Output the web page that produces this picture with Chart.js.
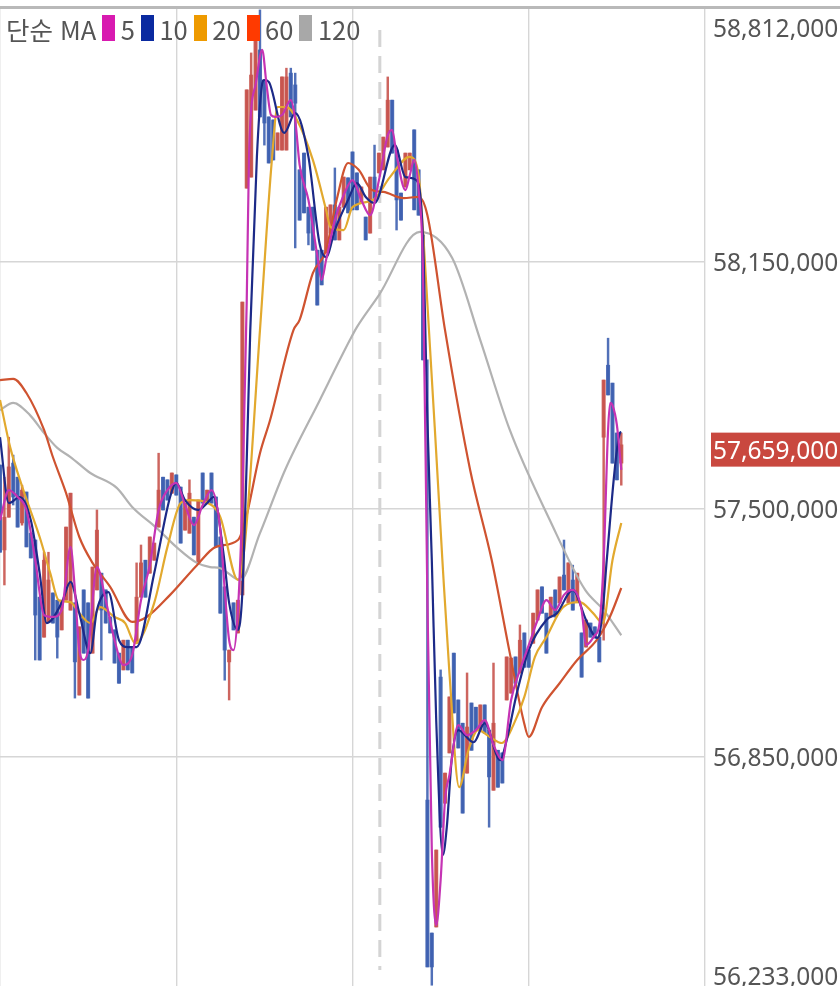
<!DOCTYPE html>
<html lang="ko">
<head>
<meta charset="UTF-8">
<title>단순 MA</title>
<script src="https://cdn.jsdelivr.net/npm/chart.js"></script>
<style>
  html, body { margin: 0; padding: 0; background: #fff; overflow: hidden; }
  #wrap { position: relative; width: 840px; height: 986px; }
  #legend { position: absolute; left: 6px; top: 13px; height: 30px; display: flex; align-items: center;
    font: 25.5px "Noto Sans CJK KR", "Noto Sans", sans-serif; color: #555; white-space: nowrap; }
  #legend i { display: inline-block; width: 13px; height: 26px; margin: 0 5.5px 0 6px; }
</style>
</head>
<body>
<div id="wrap">
  <canvas id="chart" width="840" height="986"></canvas>
  <div id="legend"></div>
</div>
<script>
// prices in thousand won
const opens = [57616,57393,57479,57621,57584,57464,57545,57437,57419,57269,57164,57204,57280,57261,57183,57261,57235,57254,57012,57288,57254,57122,57288,57332,57288,57217,57183,57122,57078,57156,57138,57148,57269,57366,57332,57366,57453,57584,57577,57542,57590,57558,57445,57437,57479,57359,57595,57516,57595,57532,57427,57296,57099,57254,57175,57275,58343,58372,58548,58706,58627,58530,58522,58443,58443,58443,58645,58614,58391,58435,58293,58293,58180,58180,58173,58225,58299,58207,58293,58370,58438,58383,58304,58267,58225,58372,58383,58391,58451,58574,58443,58330,58346,58391,58496,58391,58220,56736,56387,56403,57059,56728,56860,57122,56999,56938,56807,56991,56980,56920,56986,56920,56762,56867,56860,56999,57017,57112,57070,57175,57130,57148,57209,57296,57227,57217,57288,57254,57327,57254,57314,57256,57175,57138,57201,57191,57164,57689,57878,57831,57700,57621];
const closes = [57387,57479,57611,57532,57453,57550,57401,57372,57222,57104,57366,57314,57201,57164,57261,57453,57542,57099,57191,57122,57004,57348,57445,57235,57201,57175,57096,57043,57156,57078,57070,57269,57359,57269,57427,57411,57550,57498,57524,57595,57537,57411,57516,57542,57380,57524,57516,57550,57516,57401,57227,57130,57130,57183,57261,58044,58601,58640,58750,58530,58514,58409,58417,58488,58635,58635,58530,58566,58259,58278,58225,58180,58036,58089,58293,58299,58207,58293,58372,58278,58286,58286,58346,58207,58372,58312,58435,58477,58574,58435,58312,58259,58435,58435,58286,58272,57892,56298,56298,56605,56665,56807,57007,56965,56873,56702,56928,56867,56920,56986,56912,56797,56938,56770,56781,57112,57109,57043,57156,57085,57085,57227,57288,57227,57122,57269,57217,57322,57288,57359,57235,57332,57059,57209,57164,57162,57099,57839,57800,57621,57577,57669];
const highs = [57616,57584,57689,57642,57584,57563,57545,57437,57419,57269,57387,57387,57280,57261,57261,57453,57542,57254,57191,57288,57254,57348,57498,57332,57288,57217,57183,57122,57156,57156,57138,57359,57406,57366,57427,57411,57647,57584,57577,57595,57590,57558,57516,57577,57479,57524,57595,57550,57595,57532,57427,57296,57130,57254,57261,58044,58601,58698,58750,58811,58627,58530,58522,58488,58635,58658,58658,58645,58391,58435,58293,58293,58180,58180,58293,58299,58396,58293,58372,58370,58438,58383,58346,58267,58372,58456,58435,58477,58635,58574,58443,58330,58435,58435,58496,58391,58220,57892,56387,56605,57078,56807,57007,57122,56999,56938,57070,56991,56980,56986,56986,56920,57096,56867,56860,57112,57109,57112,57196,57175,57130,57227,57288,57296,57227,57269,57288,57322,57419,57359,57353,57332,57175,57209,57201,57191,57164,57839,57949,57831,57700,57700];
const lows = [57387,57301,57479,57511,57453,57458,57401,57372,57104,57104,57164,57204,57201,57109,57183,57261,57235,57004,57012,57122,57004,57122,57288,57104,57201,57175,57096,57043,57078,57078,57070,57148,57269,57269,57332,57366,57453,57498,57524,57542,57537,57411,57445,57437,57380,57359,57516,57516,57516,57401,57227,57051,56999,57183,57175,57275,58343,58372,58548,58530,58456,58409,58417,58443,58443,58443,58530,58186,58259,58278,58194,58180,58036,58089,58173,58225,58207,58207,58293,58278,58286,58286,58304,58207,58225,58312,58383,58391,58451,58435,58233,58259,58346,58391,58286,58272,57892,56298,56250,56403,56665,56728,56860,56965,56873,56702,56807,56867,56920,56920,56912,56665,56762,56770,56781,56999,57017,57043,57070,57085,57085,57148,57209,57227,57122,57217,57217,57254,57288,57254,57235,57256,57059,57138,57164,57162,57099,57156,57800,57621,57577,57563];

const ma5X = [0,2,4,6,8,10,12,14,16,17,18,19,20,22,24,26,28,30,32,34,36,38,40,42,44,46,48,50,51,52,53,54,55,56,56.5,57,58,59.5,60.5,61.5,62.5,64,66,67,68,70,72,73,74,76,78,80,82,84,86,88,89,90,92,93,94,95,96,97,98,99,100,101,102,104,106,108,110,112,114,116,118,120,122,124,126,128,130,132,133,135,136,137,138,138.5,139,140,141];
const ma5 = [57471,57550,57532,57498,57366,57222,57217,57235,57401,57288,57130,57104,57130,57348,57261,57156,57091,57117,57261,57353,57498,57550,57569,57511,57458,57511,57550,57445,57288,57156,57130,57235,57524,58049,58417,58548,58614,58706,58614,58535,58530,58535,58574,58522,58404,58312,58167,58102,58154,58259,58325,58364,58312,58272,58364,58482,58496,58430,58338,58377,58417,58338,58128,57261,56605,56408,56526,56736,56802,56933,56907,56920,56946,56881,56841,56999,57078,57143,57209,57261,57235,57275,57288,57235,57143,57169,57196,57366,57708,57779,57773,57721,57603];
const ma10X = [0,2,4.5,7,9,10.6,14,16,18,20.5,22,24.6,27,29,31,35,38.6,40,42,45,47,48.5,50.7,52,54,55,56,56.8,58.3,59.4,60,61,64.5,67,70,72.5,74,76,79,81,83,85,89.6,92,94.5,96,97,98,99,100.5,101.4,102.5,104,107.5,110,113.5,115,117.3,120,124,126.4,130,133,135.5,136,137,137.7,140.7,141];
const ma10 = [57689,57516,57532,57471,57332,57201,57254,57309,57227,57122,57235,57282,57156,57138,57138,57332,57532,57569,57524,57498,57516,57532,57385,57254,57183,57280,57629,57970,58425,58609,58627,58622,58488,58540,58425,58199,58162,58233,58312,58356,58320,58304,58456,58372,58364,58207,57734,57366,56946,56592,56665,56841,56920,56888,56938,56841,56894,57017,57130,57209,57227,57288,57209,57162,57169,57261,57366,57700,57703];
const ma20X = [0,2.3,5.3,9,11.4,13.3,16,18,20.5,22.7,26,28.4,30.7,35,38,41,43,48,50,54,55.5,59,61.7,63,65,67.4,71,74,75,78,80,84.7,88.5,93,95,96,100.4,102,104.2,106.3,108.5,111.2,113.9,116.5,119,121.4,124,127.8,131.6,134.6,136.8,139,141];
const ma20 = [57787,57663,57550,57427,57332,57261,57256,57227,57201,57243,57217,57201,57148,57254,57401,57516,57524,57511,57479,57314,57401,57970,58417,58556,58556,58522,58417,58286,58241,58233,58293,58312,58372,58425,58377,58233,57366,57070,56770,56867,56920,56902,56886,56933,57007,57112,57164,57243,57256,57227,57201,57366,57464];
const ma60X = [0,3,6,10,12,15,18,21,25,30,33.3,38.6,44.7,49,54,55.7,59,61.3,66.6,68,71,74,76.4,79,81.4,84.4,87,91.6,95,97,101,106.7,111.6,115.7,118.8,120,123,127,131,135.4,138.4,141];
const ma60 = [57839,57842,57805,57708,57637,57542,57427,57359,57296,57204,57217,57275,57353,57401,57419,57471,57647,57734,57970,57997,58120,58180,58312,58409,58391,58338,58333,58317,58320,58272,57970,57603,57366,57122,56946,56902,56980,57043,57104,57156,57217,57293];
const ma120X = [0,3,6.8,10,13,16,20.5,26.5,30,35.6,40,44.7,47.7,50,54.5,59,64.7,72.6,79.4,81,86,95.3,102.6,109,115.7,124.8,132.8,137,141];
const ma120 = [57760,57779,57747,57700,57661,57637,57595,57556,57506,57450,57401,57359,57348,57345,57314,57437,57603,57787,57944,57978,58062,58228,58160,57944,57708,57471,57288,57235,57169];

const maLabels = ['5','10','20','60','120'];
const maColors = ['#c533b4','#1c2a88','#e2a92e','#cf5330','#b2b2b2'];
const maSwatch = ['#d81ab0','#0a2aa0','#ee9a00','#ff3a00','#a8a8a8'];

const yTickValues = [58812,58150,57500,56850,56233];
const gridValues = [58150,57500,56850];
const xGrid = [0,40,80,120,160];
const lastPrice = 57659;
const crosshairX = [86.2,86.2];
const crosshairY = [58758,56290];

const UP = 'rgba(200,84,78,0.9)';
const DOWN = 'rgba(62,96,176,0.9)';

document.getElementById('legend').innerHTML = '<span>단순 MA</span>' +
  maLabels.map((l, i) => '<i style="background:' + maSwatch[i] + '"></i><span>' + l + '</span>').join('');

const barColors = opens.map((o, i) => closes[i] > o ? UP : DOWN);

function fmt(v) { return (v * 1000).toLocaleString('en-US'); }

// right hand price labels, clamped to the plot like the original app does
const priceAxis = {
  id: 'priceAxis',
  afterDraw(chart) {
    const ctx = chart.ctx, y = chart.scales.y, top = chart.chartArea.top;
    ctx.save();
    ctx.fillStyle = '#b9b9b9';
    ctx.fillRect(0, top - 2, 840, 3);
    ctx.font = '24.5px "Noto Sans", sans-serif';
    ctx.textBaseline = 'middle';
    ctx.fillStyle = '#555';
    yTickValues.forEach(v => {
      const py = Math.min(Math.max(y.getPixelForValue(v), 28), 976);
      ctx.fillText(fmt(v), 713, py + 2);
    });
    const tag = y.getPixelForValue(lastPrice);
    ctx.fillStyle = '#c9483f';
    ctx.fillRect(711, tag - 16, 129, 34);
    ctx.fillStyle = '#fff';
    ctx.fillText(fmt(lastPrice), 713, tag + 3);
    ctx.restore();
  }
};

function maDataset(xs, vals, color, order) {
  return { type: 'line', data: xs.map((x, i) => ({ x: x, y: vals[i] })), borderColor: color, borderWidth: 2.2,
    pointRadius: 0, cubicInterpolationMode: 'monotone', order: order };
}

new Chart(document.getElementById('chart'), {
  type: 'bar',
  data: {
    datasets: [
      { type: 'line', data: crosshairX.map((x, i) => ({ x: x, y: crosshairY[i] })), borderColor: '#d4d4d4', borderWidth: 3,
        borderDash: [17, 9], pointRadius: 0, order: 30 },
      { data: opens.map((o, i) => ({ x: i, y: [lows[i], highs[i]] })), backgroundColor: barColors, barThickness: 1.8, grouped: false, order: 21 },
      { data: opens.map((o, i) => ({ x: i, y: [o, closes[i]] })), backgroundColor: barColors, barThickness: 3.4, grouped: false, order: 20 },
      maDataset(ma120X, ma120, maColors[4], 5),
      maDataset(ma60X, ma60, maColors[3], 4),
      maDataset(ma20X, ma20, maColors[2], 3),
      maDataset(ma10X, ma10, maColors[1], 2),
      maDataset(ma5X, ma5, maColors[0], 1)
    ]
  },
  options: {
    responsive: false,
    animation: false,
    devicePixelRatio: 1,
    layout: { padding: { top: 8, right: 135, left: 0, bottom: 0 } },
    plugins: { legend: { display: false }, tooltip: { enabled: false } },
    scales: {
      x: {
        type: 'linear', min: 0, max: 160, offset: false,
        afterBuildTicks: s => { s.ticks = xGrid.map(v => ({ value: v })); },
        ticks: { display: false },
        grid: { color: '#d6d6d6', lineWidth: 1.4, drawTicks: false, offset: false },
        border: { display: false }
      },
      y: {
        min: 56248, max: 58816, position: 'right',
        afterBuildTicks: s => { s.ticks = gridValues.map(v => ({ value: v })); },
        ticks: { display: false },
        grid: { color: '#d6d6d6', lineWidth: 1.4, drawTicks: false },
        border: { display: false }
      }
    }
  },
  plugins: [priceAxis]
});
</script>
</body>
</html>
